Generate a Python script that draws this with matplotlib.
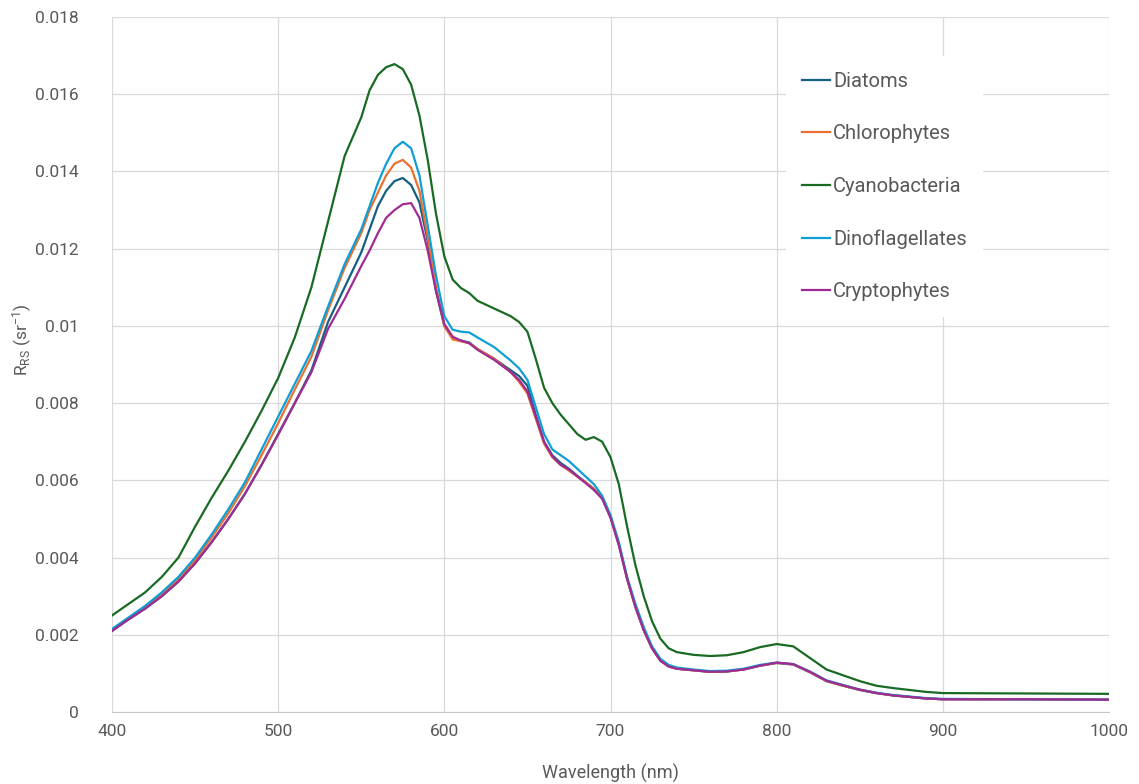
import matplotlib
matplotlib.use("Agg")
import matplotlib.pyplot as plt
from matplotlib.ticker import FuncFormatter, MultipleLocator

plt.rcParams['font.family'] = ['Roboto', 'DejaVu Sans']
plt.rcParams['mathtext.default'] = 'regular'

wavelength = [400, 410, 420, 430, 440, 450, 460, 470, 480, 490, 500, 510, 520, 530, 540,
              550, 555, 560, 565, 570, 575, 580, 585, 590, 595, 600, 605, 610, 615, 620,
              630, 640, 645, 650, 655, 660, 665, 670, 675, 680, 685, 690, 695, 700, 705,
              710, 715, 720, 725, 730, 735, 740, 750, 760, 770, 780, 790, 800, 810, 820,
              830, 840, 850, 860, 870, 880, 890, 900, 950, 1000]

diatoms = [.00210, .00240, .00268, .00300, .00338, .00385, .00440, .00500, .00565, .00640,
           .00720, .00800, .00885, .01010, .01100, .01190, .01250, .01310, .01350, .01375,
           .01383, .01365, .01320, .01220, .01090, .01000, .00968, .00962, .00957, .00940,
           .00915, .00885, .00870, .00845, .00770, .00700, .00665, .00645, .00630, .00612,
           .00595, .00578, .00555, .00505, .00435, .00345, .00272, .00212, .00165, .00133,
           .00118, .00112, .00108, .00104, .00105, .00110, .00120, .00127, .00123, .00103,
           .00080, .00068, .00057, .00049, .00043, .00039, .00035, .00033, .00033, .00032]

chlorophytes = [.00212, .00242, .00272, .00306, .00345, .00393, .00452, .00515, .00585, .00665,
                .00748, .00835, .00920, .01040, .01150, .01240, .01300, .01345, .01390, .01420,
                .01430, .01410, .01350, .01230, .01100, .01000, .00965, .00960, .00955, .00940,
                .00915, .00880, .00855, .00825, .00760, .00695, .00660, .00640, .00625, .00610,
                .00595, .00578, .00555, .00505, .00435, .00345, .00272, .00212, .00165, .00133,
                .00118, .00112, .00108, .00104, .00105, .00110, .00120, .00127, .00123, .00103,
                .00080, .00068, .00057, .00049, .00043, .00039, .00035, .00033, .00033, .00032]

cyanobacteria = [.00250, .00280, .00310, .00350, .00400, .00480, .00555, .00625, .00700, .00780,
                 .00865, .00970, .01100, .01270, .01440, .01540, .01610, .01650, .01670, .01678,
                 .01665, .01625, .01545, .01430, .01290, .01180, .01120, .01098, .01085, .01065,
                 .01045, .01025, .01010, .00985, .00915, .00840, .00800, .00770, .00745, .00720,
                 .00705, .00712, .00700, .00660, .00590, .00480, .00380, .00300, .00235, .00190,
                 .00165, .00155, .00148, .00145, .00147, .00155, .00168, .00176, .00170, .00140,
                 .00110, .00095, .00080, .00068, .00062, .00057, .00052, .00049, .00048, .00047]

dinoflagellates = [.00215, .00245, .00275, .00310, .00350, .00400, .00460, .00525, .00595, .00680,
                   .00765, .00850, .00935, .01050, .01160, .01250, .01310, .01370, .01420, .01460,
                   .01477, .01460, .01390, .01260, .01130, .01025, .00990, .00985, .00983, .00970,
                   .00945, .00910, .00890, .00860, .00790, .00720, .00680, .00665, .00650, .00630,
                   .00610, .00590, .00560, .00510, .00440, .00350, .00280, .00220, .00170, .00138,
                   .00122, .00115, .00110, .00106, .00107, .00112, .00122, .00128, .00124, .00105,
                   .00082, .00070, .00058, .00050, .00044, .00040, .00036, .00034, .00033, .00032]

cryptophytes = [.00210, .00240, .00268, .00300, .00338, .00385, .00440, .00500, .00565, .00640,
                .00718, .00800, .00880, .00992, .01070, .01155, .01195, .01240, .01280, .01300,
                .01315, .01318, .01280, .01195, .01090, .01005, .00972, .00962, .00955, .00938,
                .00912, .00880, .00860, .00830, .00765, .00700, .00662, .00640, .00628, .00610,
                .00593, .00575, .00552, .00503, .00432, .00345, .00272, .00212, .00165, .00133,
                .00118, .00112, .00108, .00104, .00105, .00110, .00120, .00128, .00124, .00104,
                .00081, .00069, .00058, .00049, .00043, .00039, .00035, .00033, .00033, .00032]

series = [
    ("Diatoms", diatoms, "#156082"),
    ("Chlorophytes", chlorophytes, "#E97132"),
    ("Cyanobacteria", cyanobacteria, "#196B24"),
    ("Dinoflagellates", dinoflagellates, "#0F9ED5"),
    ("Cryptophytes", cryptophytes, "#A02B93"),
]

fig = plt.figure(figsize=(11.39, 7.84), dpi=100)
ax = fig.add_axes([112/1139, 72/784, 997/1139, 695/784])

for name, vals, col in series:
    ax.plot(wavelength, vals, color=col, lw=1.6, label=name, solid_joinstyle='round')

ax.set_xlim(400, 1000)
ax.set_ylim(0, 0.018)
ax.xaxis.set_major_locator(MultipleLocator(100))
ax.yaxis.set_major_locator(MultipleLocator(0.002))
ax.yaxis.set_major_formatter(FuncFormatter(lambda v, p: f"{round(v, 6):g}"))
ax.grid(True, color="#d9d9d9", lw=0.9)
ax.set_axisbelow(True)
for s in ["top", "right", "left"]:
    ax.spines[s].set_visible(False)
ax.spines["bottom"].set_color("#c8c8c8")
ax.tick_params(axis='both', length=0, labelsize=12.5, labelcolor="#595959")
ax.tick_params(axis='y', pad=24)
ax.tick_params(axis='x', pad=9)

ax.set_xlabel("Wavelength (nm)", fontsize=13, color="#595959")
ax.set_ylabel("R$_{RS}$ (sr$^{-1}$)", fontsize=12.5, color="#595959")
ax.xaxis.set_label_coords(0.5, -0.074)
ax.yaxis.set_label_coords(-0.078, 0.535)

leg = ax.legend(loc="upper left", bbox_to_anchor=(0.676, 0.944), frameon=True,
                facecolor="white", edgecolor="none", framealpha=1, fontsize=14.5,
                labelspacing=1.66, handlelength=1.4, handletextpad=0.15,
                borderpad=0.8, borderaxespad=0)
for t in leg.get_texts():
    t.set_color("#595959")

fig.savefig("out.png", dpi=100)
